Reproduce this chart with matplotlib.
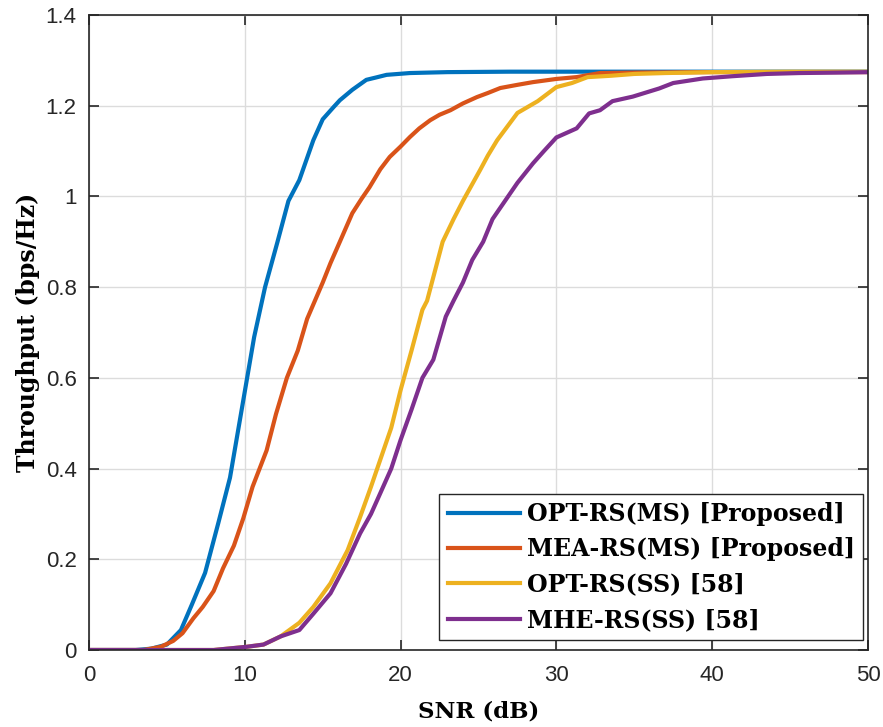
import numpy as np
import matplotlib.pyplot as plt

"""Values read off the reference picture."""
x_opt_ms = [0, 3, 4, 5, 5.9, 6.6, 7.45, 8.3, 9.05, 10, 10.6, 11.3, 12.1, 12.8, 13.5, 14.4, 15.0, 15.7, 16.1, 16.9, 17.8, 18.4, 19.1, 20.6, 23, 27, 35, 50]
y_opt_ms = [0, 0, 0.003, 0.012, 0.044, 0.10, 0.17, 0.28, 0.38, 0.57, 0.69, 0.80, 0.90, 0.99, 1.036, 1.124, 1.17, 1.197, 1.212, 1.235, 1.257, 1.262, 1.268, 1.272, 1.274, 1.275, 1.275, 1.275]

x_mea_ms = [0, 3.5, 4.6, 5.4, 6.0, 6.7, 7.3, 8.0, 8.6, 9.3, 9.9, 10.5, 11.4, 12.0, 12.7, 13.4, 14.0, 14.5, 15.0, 15.5, 16.1, 16.9, 17.5, 18.0, 18.7, 19.3, 20.0, 20.6, 21.2, 21.9, 22.5, 23.2, 24.0, 24.9, 25.6, 26.4, 27.5, 28.5, 30.0, 31.3, 32.8, 35, 40, 50]
y_mea_ms = [0, 0, 0.007, 0.02, 0.037, 0.07, 0.095, 0.13, 0.18, 0.23, 0.29, 0.36, 0.44, 0.52, 0.60, 0.66, 0.73, 0.77, 0.81, 0.853, 0.90, 0.963, 0.995, 1.02, 1.06, 1.087, 1.11, 1.131, 1.15, 1.168, 1.18, 1.19, 1.205, 1.219, 1.228, 1.239, 1.246, 1.252, 1.259, 1.263, 1.272, 1.273, 1.274, 1.274]

x_opt_ss = [0, 8, 10.1, 11.2, 12.3, 13.5, 14.4, 15.5, 16.6, 17.4, 18.1, 18.7, 19.4, 20.0, 20.7, 21.4, 21.7, 22.2, 22.7, 23.4, 24.0, 25.1, 25.6, 26.2, 27.5, 28.8, 30.0, 31.0, 32.0, 33.5, 35, 37, 40, 45, 50]
y_opt_ss = [0, 0, 0.007, 0.012, 0.03, 0.06, 0.095, 0.147, 0.22, 0.293, 0.36, 0.42, 0.49, 0.573, 0.66, 0.75, 0.77, 0.835, 0.90, 0.95, 0.99, 1.058, 1.09, 1.124, 1.184, 1.21, 1.241, 1.25, 1.263, 1.266, 1.270, 1.272, 1.274, 1.275, 1.275]

x_mhe_ss = [0, 8, 10.1, 11.2, 12.3, 13.5, 14.4, 15.5, 16.5, 17.4, 18.1, 18.7, 19.4, 20.0, 20.7, 21.4, 22.1, 22.9, 23.4, 24.0, 24.6, 25.3, 25.9, 26.7, 27.5, 28.5, 29.2, 30.0, 31.3, 32.1, 32.8, 33.6, 34.9, 36.6, 37.5, 39.4, 41.3, 43.5, 45.6, 48, 50]
y_mhe_ss = [0, 0, 0.007, 0.012, 0.03, 0.044, 0.08, 0.125, 0.19, 0.257, 0.30, 0.346, 0.40, 0.463, 0.53, 0.60, 0.64, 0.735, 0.77, 0.81, 0.86, 0.90, 0.95, 0.99, 1.03, 1.073, 1.10, 1.13, 1.15, 1.183, 1.19, 1.21, 1.22, 1.238, 1.25, 1.26, 1.265, 1.27, 1.272, 1.273, 1.274]

labels = ['OPT-RS(MS) [Proposed]', 'MEA-RS(MS) [Proposed]', 'OPT-RS(SS) [58]', 'MHE-RS(SS) [58]']
colors = ['#0072BD', '#D95319', '#EDB120', '#7E2F8E']

fig = plt.figure(figsize=(8.83, 7.27), dpi=100)
ax = fig.add_axes([0.1008, 0.1059, 0.8822, 0.8735])

series = [(x_opt_ms, y_opt_ms), (x_mea_ms, y_mea_ms), (x_opt_ss, y_opt_ss), (x_mhe_ss, y_mhe_ss)]
for (xs, ys), lab, c in zip(series, labels, colors):
    ax.plot(xs, ys, color=c, lw=3, label=lab)

ax.set_xlim(0, 50)
ax.set_ylim(0, 1.4)
ax.set_xticks(np.arange(0, 51, 10))
ax.set_yticks(np.arange(0, 1.41, 0.2))
ax.set_yticklabels(['0', '0.2', '0.4', '0.6', '0.8', '1', '1.2', '1.4'])
ax.grid(True, color='#dcdcdc', lw=1)
ax.set_axisbelow(True)
ax.tick_params(direction='in', top=True, right=True, length=7, width=1.2,
               labelsize=16, colors='#262626')
ax.tick_params(axis='x', pad=11)
ax.tick_params(axis='y', pad=9)
for lbl in ax.get_xticklabels() + ax.get_yticklabels():
    lbl.set_family('Liberation Sans')
for s in ax.spines.values():
    s.set_color('#262626')
    s.set_linewidth(1.2)

ax.set_xlabel('SNR (dB)', fontsize=16.5, fontweight='bold', family='DejaVu Serif', labelpad=10)
ax.set_ylabel('Throughput (bps/Hz)', fontsize=17, fontweight='bold', family='DejaVu Serif', labelpad=4)

leg = ax.legend(loc='lower right', bbox_to_anchor=(0.9936, 0.0157),
                prop={'family': 'DejaVu Serif', 'weight': 'bold', 'size': 17},
                handlelength=3.05, handletextpad=0.3, borderaxespad=0, borderpad=0.35,
                framealpha=1, fancybox=False, edgecolor='#262626', labelspacing=0.48)
leg.get_frame().set_linewidth(1.0)

fig.savefig('out.png', dpi=100)
